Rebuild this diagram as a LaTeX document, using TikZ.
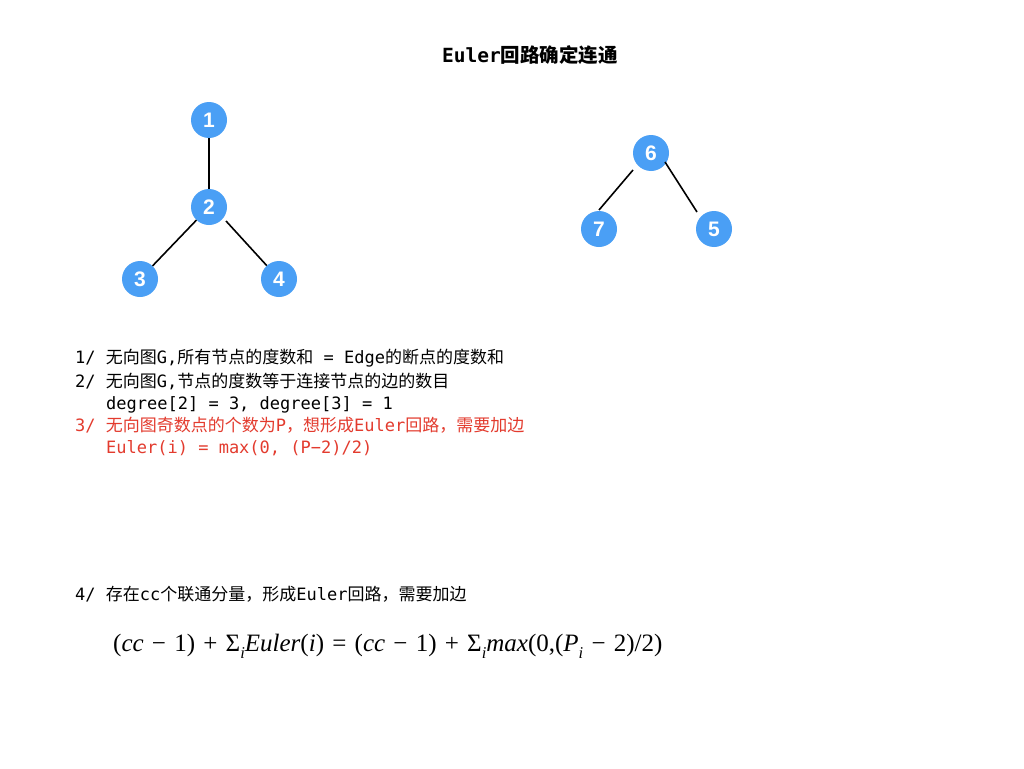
\documentclass[tikz,border=0pt]{standalone}
\usepackage{fontspec}
\newfontfamily\mono{DejaVu Sans Mono}
\newfontfamily\cjk{Noto Sans CJK SC}
\newfontfamily\tms{Liberation Serif}
\newfontfamily\helv{Liberation Sans}
\newcommand\zh[1]{{\cjk #1}}
\newcommand\sbi[1]{\raisebox{-0.28em}{\fontsize{16.5}{18}\selectfont\itshape #1}}
\newcommand\op[1]{\hspace{0.33em}#1\hspace{0.33em}}
\definecolor{nodeblue}{HTML}{4A9FF5}
\definecolor{notered}{HTML}{E33B2E}
\tikzset{
  vtx/.style={circle, fill=nodeblue, minimum size=36pt, inner sep=0pt, text=white, font=\helv\bfseries\fontsize{21}{22}\selectfont},
  edge/.style={line width=1.6pt, black},
  txt/.style={anchor=base west, inner sep=0pt, font=\mono\fontsize{17}{20}\selectfont},
  redtxt/.style={txt, text=notered}
}
\begin{document}
\begin{tikzpicture}[x=1pt,y=-1pt]
\useasboundingbox (0,0) rectangle (1024,768);
\fill[white] (0,0) rectangle (1024,768);
% title
\node[anchor=base, inner sep=0pt, font=\mono\bfseries\fontsize{19.5}{22}\selectfont] (title) at (530,63) {Euler{\cjk\bfseries 回路确定连通}};
% graph 1
\node[vtx] (n1) at (209,120) {1};
\node[vtx] (n2) at (209,207) {2};
\node[vtx] (n3) at (140,279) {3};
\node[vtx] (n4) at (279,279) {4};
\draw[edge] (n1) -- (n2);
\draw[edge] (n2) -- (n3);
\draw[edge] ([shift={(17,14)}]n2.center) -- (n4);
% graph 2
\node[vtx] (n6) at (651,153) {6};
\node[vtx] (n7) at (599,229) {7};
\node[vtx] (n5) at (714,229) {5};
\draw[edge] ([shift={(-18,17)}]n6.center) -- ([shift={(0,-19)}]n7.center);
\draw[edge] ([shift={(14,9)}]n6.center) -- ([shift={(-17,-17)}]n5.center);
% text
\node[txt] (l1) at (75,363) {1/ \zh{无向图}G,\zh{所有节点的度数和} = Edge\zh{的断点的度数和}};
\node[txt] (l2) at (75,387) {2/ \zh{无向图}G,\zh{节点的度数等于连接节点的边的数目}};
\node[txt] (l2b) at (106,409) {degree[2] = 3, degree[3] = 1};
\node[redtxt] (l3) at (75,431) {3/ \zh{无向图奇数点的个数为}P\zh{，想形成}Euler\zh{回路，需要加边}};
\node[redtxt] (l3b) at (106,453) {Euler(i) = max(0, (P−2)/2)};
\node[txt] (l4) at (75,600) {4/ \zh{存在}cc\zh{个联通分量，形成}Euler\zh{回路，需要加边}};
\node[anchor=base west, inner sep=0pt, font=\tms\fontsize{25}{27}\selectfont] (f) at (113,651)
  {(\textit{cc}\op{−}1)\op{+}Σ\sbi{i}\textit{Euler}(\textit{i})\op{=}(\textit{cc}\op{−}1)\op{+}Σ\sbi{i}\textit{max}(0,(\textit{P}\sbi{i}\op{−}2)/2)};
\end{tikzpicture}
\end{document}
